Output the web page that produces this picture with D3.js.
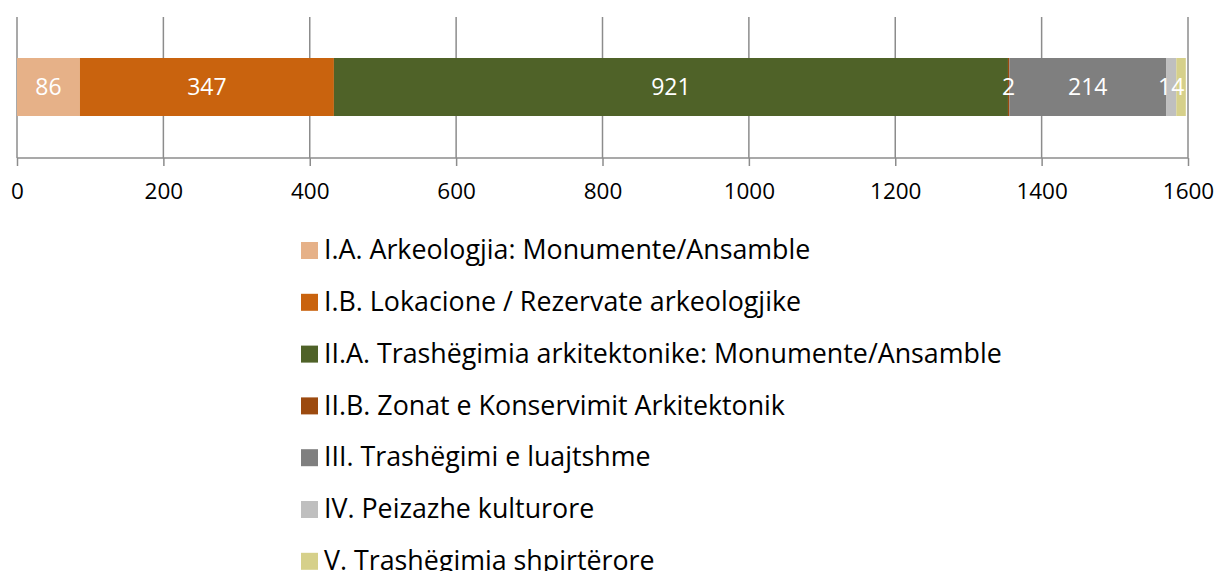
<!DOCTYPE html>
<html>
<head>
<meta charset="utf-8">
<script src="https://cdn.jsdelivr.net/npm/d3@7"></script>
<style>
  body { margin: 0; background: #fff; }
  svg text { font-family: "Open Sans", sans-serif; }
</style>
</head>
<body>
<div id="chart"></div>
<script>
// data
var categories = [
  "I.A. Arkeologjia: Monumente/Ansamble",
  "I.B. Lokacione / Rezervate arkeologjike",
  "II.A. Trashëgimia arkitektonike: Monumente/Ansamble",
  "II.B. Zonat e Konservimit Arkitektonik",
  "III. Trashëgimi e luajtshme",
  "IV. Peizazhe kulturore",
  "V. Trashëgimia shpirtërore"
];
var values = [86, 347, 921, 2, 214, 14, 13];
var labelShown = [true, true, true, true, true, true, false];
var colors = ["#e6b188", "#c9630e", "#4f6228", "#9c4a0f", "#7f7f7f", "#bfbfbf", "#d6d08a"];
var tickValues = [0, 200, 400, 600, 800, 1000, 1200, 1400, 1600];

var W = 1216, H = 571;
var svg = d3.select("#chart").append("svg")
  .attr("width", W)
  .attr("height", H);

var x = d3.scaleLinear().domain([0, 1600]).range([17, 1188]);
var plotTop = 17, axisY = 158;
var barY = 58, barH = 58;

// gridlines
svg.selectAll("line.grid")
  .data(tickValues)
  .enter().append("line")
  .attr("class", "grid")
  .attr("x1", d => x(d)).attr("x2", d => x(d))
  .attr("y1", plotTop).attr("y2", axisY)
  .attr("stroke", "#8c8c8c")
  .attr("stroke-width", 1.5);

// stacked bar
var cum = 0;
var segs = values.map(function (v, i) {
  var s = { i: i, v: v, x0: cum, x1: cum + v };
  cum += v;
  return s;
});

svg.selectAll("rect.seg")
  .data(segs)
  .enter().append("rect")
  .attr("class", "seg")
  .attr("x", d => x(d.x0))
  .attr("width", d => x(d.x1) - x(d.x0))
  .attr("y", barY)
  .attr("height", barH)
  .attr("fill", d => colors[d.i]);

svg.selectAll("text.val")
  .data(segs.filter(d => labelShown[d.i]))
  .enter().append("text")
  .attr("class", "val")
  .attr("x", d => (x(d.x0) + x(d.x1)) / 2)
  .attr("y", barY + barH / 2)
  .attr("dy", "0.36em")
  .attr("text-anchor", "middle")
  .attr("fill", "#fff")
  .attr("font-size", 23)
  .text(d => d.v);

// axis
var axis = d3.axisBottom(x)
  .tickValues(tickValues)
  .tickSize(8)
  .tickPadding(17)
  .tickFormat(d3.format("d"));

var gAxis = svg.append("g")
  .attr("transform", "translate(0," + axisY + ")")
  .call(axis);
gAxis.select(".domain").attr("stroke", "#8c8c8c").attr("stroke-width", 1.5)
  .attr("d", "M" + x(0) + ",0H" + x(1600));
gAxis.selectAll(".tick line").attr("stroke", "#8c8c8c").attr("stroke-width", 1.5);
gAxis.selectAll(".tick text")
  .attr("font-size", 22.5)
  .attr("font-family", "Open Sans, sans-serif")
  .attr("fill", "#000");

// legend
var legend = svg.append("g").attr("transform", "translate(301,250)");
var rows = legend.selectAll("g.row")
  .data(categories)
  .enter().append("g")
  .attr("class", "row")
  .attr("transform", (d, i) => "translate(0," + (i * 51.8) + ")");
rows.append("rect")
  .attr("x", 0).attr("y", -8)
  .attr("width", 17).attr("height", 17)
  .attr("fill", (d, i) => colors[i]);
rows.append("text")
  .attr("x", 23)
  .attr("y", 0)
  .attr("dy", "0.34em")
  .attr("font-size", 26.8)
  .attr("fill", "#000")
  .text(d => d);
</script>
</body>
</html>
